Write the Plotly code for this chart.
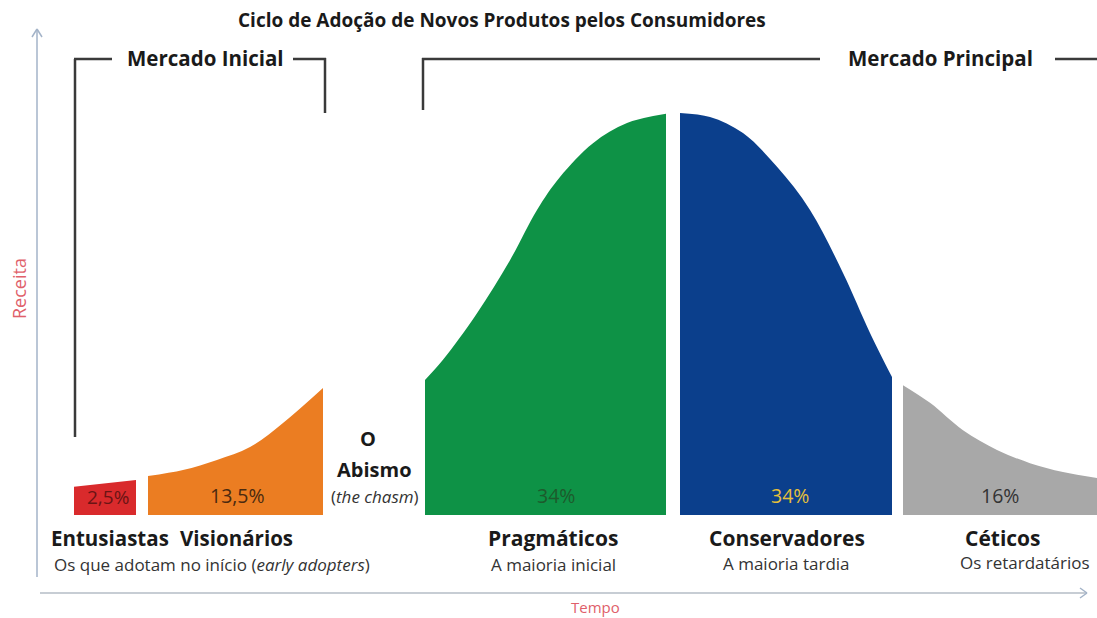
import plotly.graph_objects as go

# ---------------- data (time units vs revenue, % of peak) ----------------
segment_names = ["Entusiastas", "Visionários", "Pragmáticos", "Conservadores", "Céticos"]
segment_shares = ["2,5%", "13,5%", "34%", "34%", "16%"]
segment_subtitles = ["Os que adotam no início (<i>early adopters</i>)", "A maioria inicial",
                     "A maioria tardia", "Os retardatários"]

red_t = [3.8, 10.0]
red_r = [7.0, 8.7]
orange_t = [11.2, 14.7, 18.1, 21.4, 24.7, 28.7]
orange_r = [9.7, 11.2, 13.7, 16.9, 22.9, 31.6]
green_t = [38.9, 40.7, 44.1, 47.4, 50.1, 52.4, 55.7, 59.1, 63.0]
green_r = [33.6, 38.6, 50.2, 63.4, 75.9, 84.1, 92.5, 97.5, 99.8]
blue_t = [64.4, 67.4, 70.7, 74.1, 77.4, 80.7, 83.4, 85.6]
blue_r = [100.0, 99.0, 95.0, 86.6, 75.9, 60.2, 45.3, 34.3]
grey_t = [86.7, 89.4, 92.7, 96.1, 99.4, 102.7, 106.1]
grey_r = [32.3, 27.9, 21.1, 16.2, 12.9, 10.7, 9.2]

# ---------------- layout helpers ----------------
W, H = 1097, 618
FONT = "Open Sans"


def P(px, py):
    return px / W, 1 - py / H


fig = go.Figure()

areas = [
    (red_t, red_r, "#d92a2c", "linear"),
    (orange_t, orange_r, "#eb7d22", "spline"),
    (green_t, green_r, "#0e9246", "spline"),
    (blue_t, blue_r, "#0b3f8c", "spline"),
    (grey_t, grey_r, "#a8a8a8", "spline"),
]
for t, r, col, shp in areas:
    fig.add_trace(go.Scatter(x=t, y=r, mode="lines", fill="tozeroy", fillcolor=col,
                             line=dict(width=0, color=col, shape=shp),
                             hoverinfo="skip", showlegend=False))

shapes = []


def seg(x0, y0, x1, y1, color="#3a3a3a", width=2.5):
    a0, b0 = P(x0, y0)
    a1, b1 = P(x1, y1)
    shapes.append(dict(type="line", xref="paper", yref="paper", x0=a0, y0=b0, x1=a1, y1=b1,
                       line=dict(color=color, width=width)))


# brackets
seg(75, 437, 75, 59)
seg(74, 59, 112, 59)
seg(293, 59, 326, 59)
seg(325, 58, 325, 113)
seg(423, 110, 423, 58)
seg(422, 59, 820, 59)
seg(1055, 59, 1097, 59)

# axes
AX = "#a3b3c8"
seg(37, 577, 37, 29, AX, 1.5)
seg(32, 37, 37, 29, AX, 1.5)
seg(42, 37, 37, 29, AX, 1.5)
seg(40, 593, 1087, 593, "#b4bcc6", 1.5)
seg(1080, 588, 1087, 593, AX, 1.5)
seg(1080, 598, 1087, 593, AX, 1.5)

annotations = []


def txt(s, px, py, size, color="#222222", bold=False, angle=0):
    x, y = P(px, py)
    if bold:
        s = "<b>" + s + "</b>"
    annotations.append(dict(text=s, x=x, y=y, xref="paper", yref="paper", showarrow=False,
                            xanchor="center", yanchor="middle", textangle=angle,
                            font=dict(family=FONT, size=size, color=color)))


txt("Ciclo de Adoção de Novos Produtos pelos Consumidores", 502, 20, 19, "#1a1a1a", True)
txt("Mercado Inicial", 205, 58, 20.5, "#1a1a1a", True)
txt("Mercado Principal", 940, 58, 20.5, "#1a1a1a", True)

# percentages
txt(segment_shares[0], 108, 497, 19, "#6b1414")
txt(segment_shares[1], 237, 495, 19.5, "#4a2a10")
txt(segment_shares[2], 556, 495, 19.5, "#1d5a2c")
txt(segment_shares[3], 790, 495, 19.5, "#e6c03a")
txt(segment_shares[4], 1000, 495, 19.5, "#333333")

# chasm
txt("O", 368, 438, 20, "#1a1a1a", True)
txt("Abismo", 374, 469, 20, "#1a1a1a", True)
txt("(<i>the chasm</i>)", 375, 496, 17, "#333333")

# categories
txt(segment_names[0], 110, 538, 20.5, "#1a1a1a", True)
txt(segment_names[1], 236, 538, 20.5, "#1a1a1a", True)
txt(segment_names[2], 553, 538, 21, "#1a1a1a", True)
txt(segment_names[3], 787, 538, 21, "#1a1a1a", True)
txt(segment_names[4], 1003, 538, 21, "#1a1a1a", True)

txt(segment_subtitles[0], 212, 564, 17, "#333333")
txt(segment_subtitles[1], 553, 564, 17, "#333333")
txt(segment_subtitles[2], 786, 563, 17, "#333333")
txt(segment_subtitles[3], 1025, 562, 17, "#333333")

# axis titles
txt("Tempo", 595, 607, 15, "#e0606a")
txt("Receita", 19, 289, 18, "#e0606a", angle=-90)

fig.update_layout(
    width=W, height=H,
    margin=dict(l=0, r=0, t=0, b=0),
    paper_bgcolor="white", plot_bgcolor="white",
    xaxis=dict(range=[(0 - 36) / 10, (W - 36) / 10], visible=False, fixedrange=True),
    yaxis=dict(range=[(515 - H) / 4.02, 515 / 4.02], visible=False, fixedrange=True),
    shapes=shapes, annotations=annotations, showlegend=False,
)

fig.write_html("out.html", config={"displayModeBar": False},
               post_script="document.body.style.margin='0px';")
